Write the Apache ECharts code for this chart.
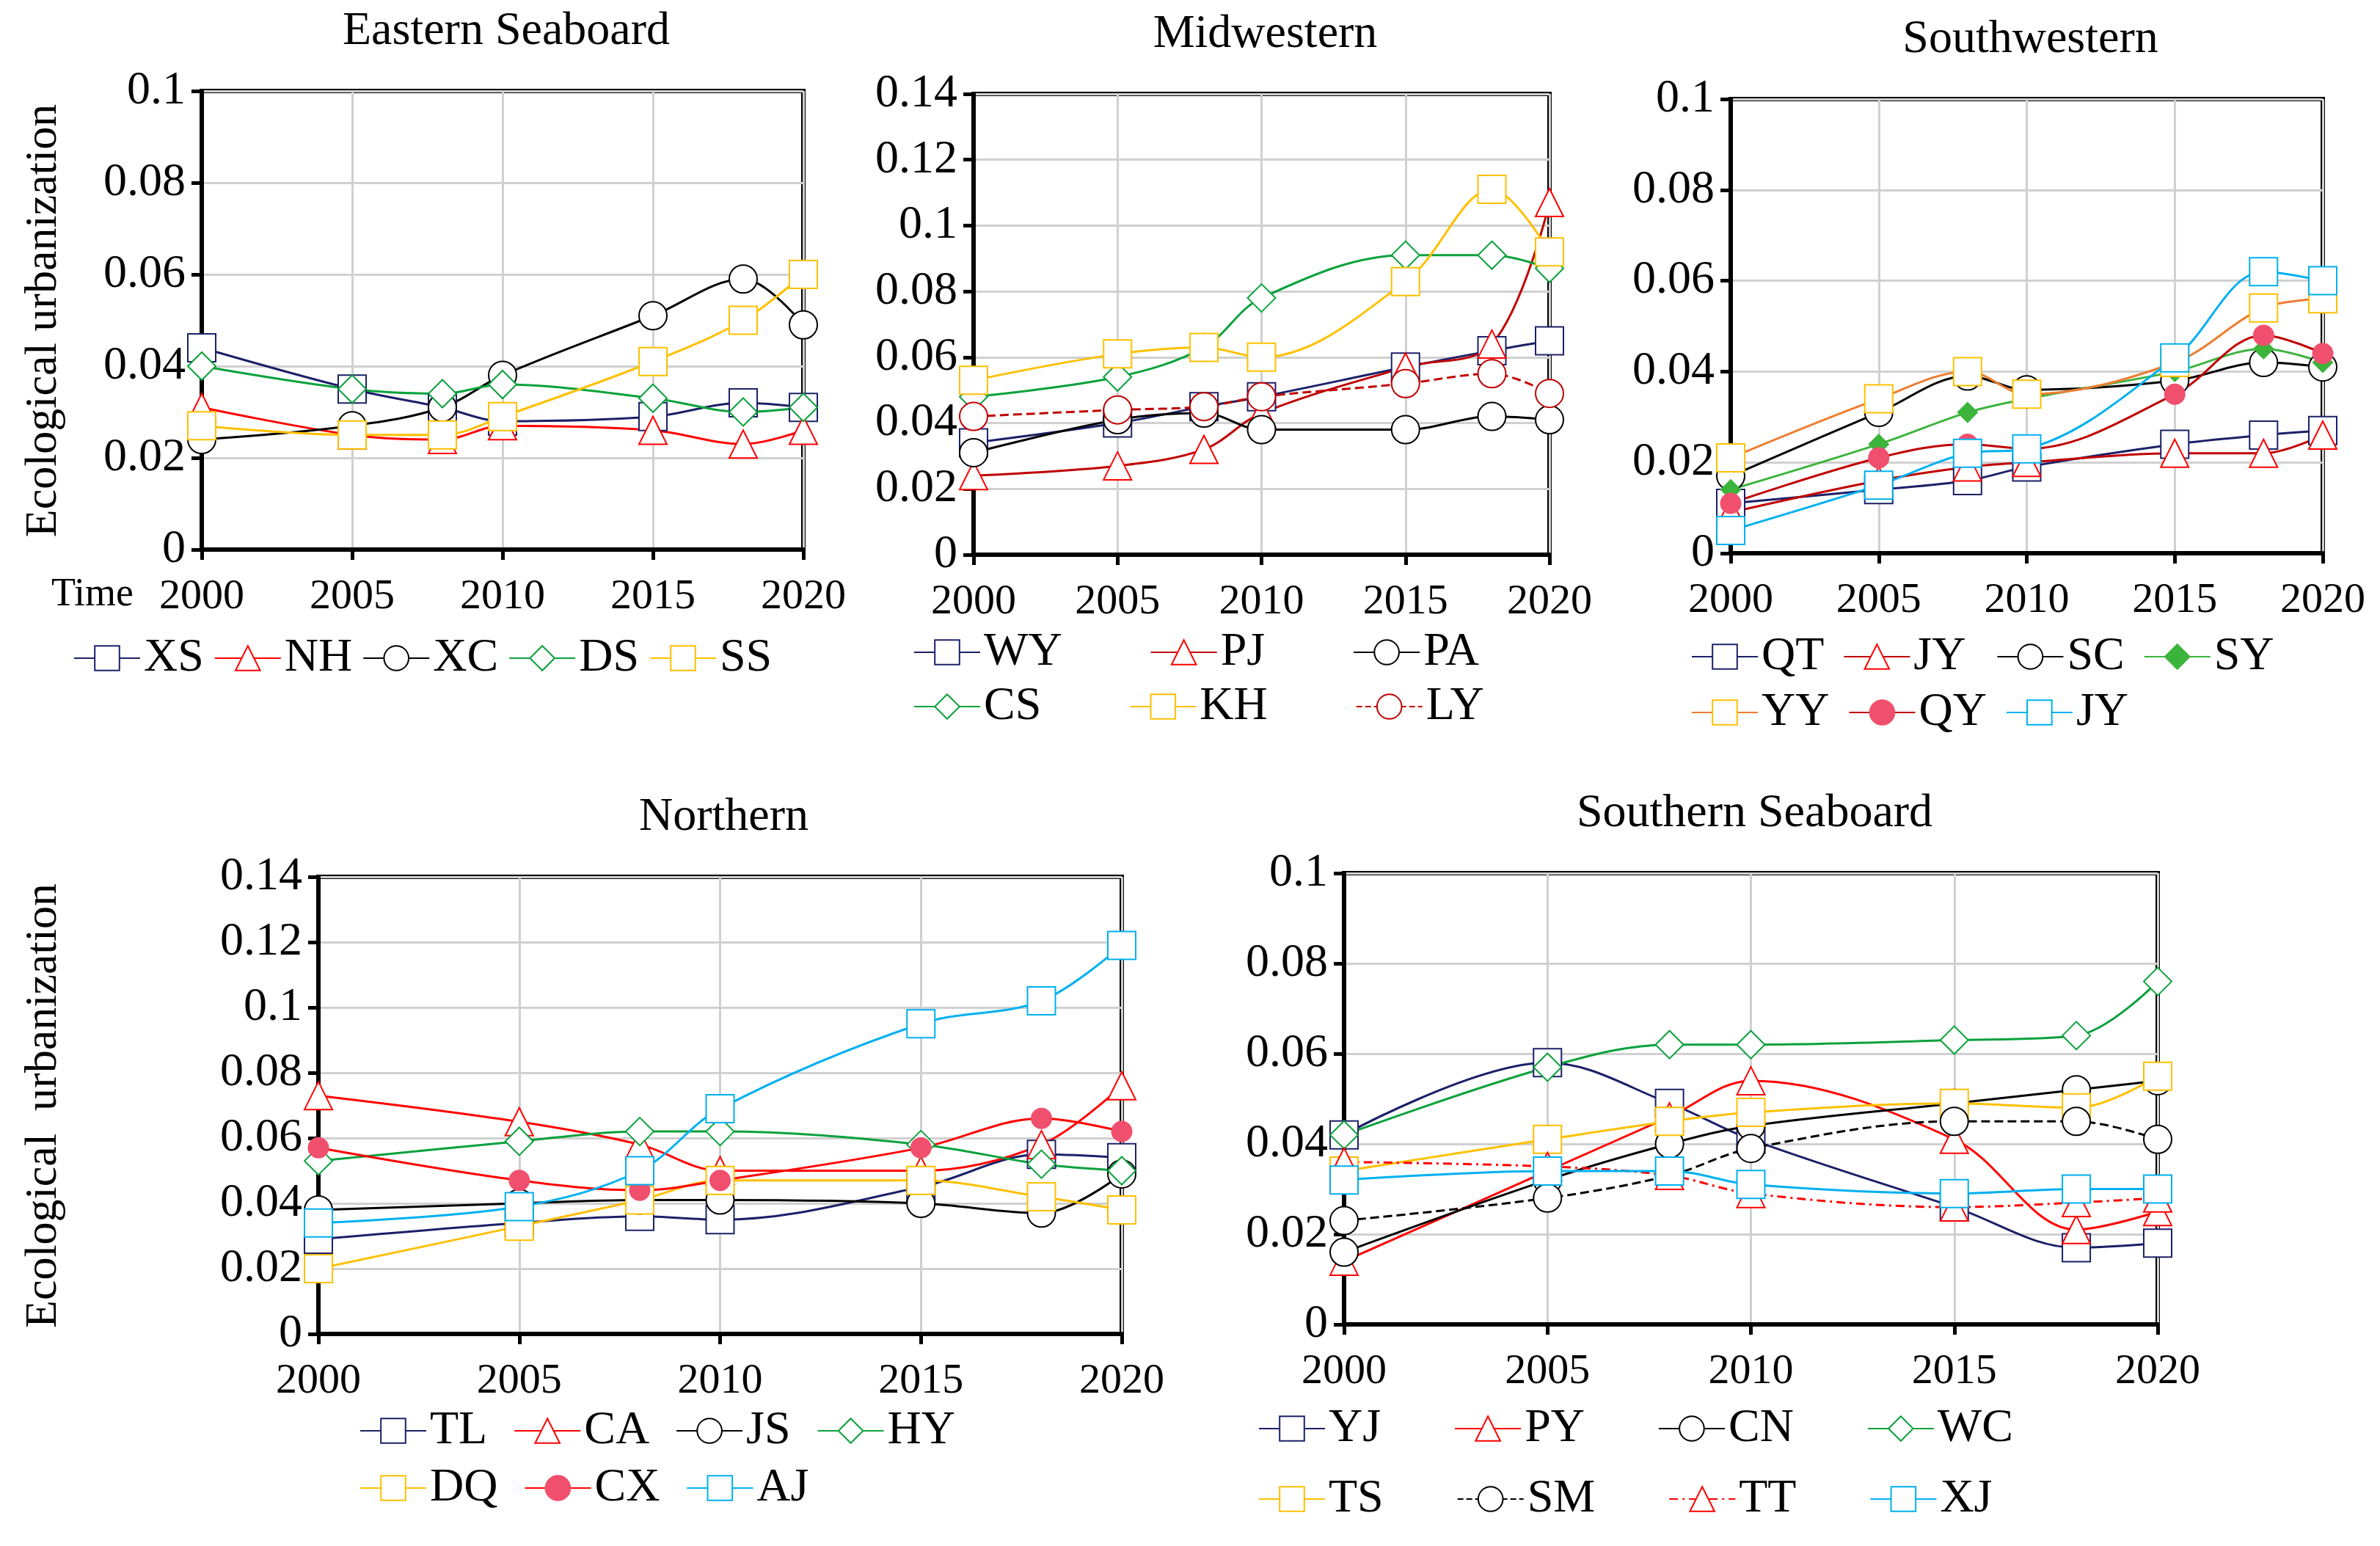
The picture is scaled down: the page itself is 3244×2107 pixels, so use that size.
<!DOCTYPE html>
<html>
<head>
<meta charset="utf-8">
<script src="https://cdn.jsdelivr.net/npm/echarts@6/dist/echarts.min.js"></script>
<style>
  html, body { margin: 0; padding: 0; background: #fff; }
  #chart { width: 3244px; height: 2107px; }
</style>
</head>
<body>
<div id="chart"></div>
<script>
const years = [2000, 2005, 2008, 2010, 2015, 2018, 2020];

// Eastern Seaboard
const xs = [0.044, 0.035, 0.031, 0.028, 0.029, 0.032, 0.031];
const nh = [0.031, 0.025, 0.024, 0.027, 0.026, 0.023, 0.026];
const xc = [0.024, 0.027, 0.031, 0.038, 0.051, 0.059, 0.049];
const ds = [0.040, 0.035, 0.034, 0.036, 0.033, 0.030, 0.031];
const ss = [0.027, 0.025, 0.025, 0.029, 0.041, 0.050, 0.060];

// Midwestern
const wy = [0.034, 0.040, 0.045, 0.048, 0.057, 0.062, 0.065];
const pj = [0.024, 0.027, 0.032, 0.043, 0.057, 0.064, 0.107];
const pa = [0.031, 0.041, 0.043, 0.038, 0.038, 0.042, 0.041];
const cs = [0.048, 0.054, 0.063, 0.078, 0.091, 0.091, 0.087];
const kh = [0.053, 0.061, 0.063, 0.060, 0.083, 0.111, 0.092];
const ly = [0.042, 0.044, 0.045, 0.048, 0.052, 0.055, 0.049];

// Southwestern
const qt = [0.011, 0.014, 0.016, 0.019, 0.024, 0.026, 0.027];
const jyRed = [0.009, 0.016, 0.019, 0.020, 0.022, 0.022, 0.026];
const sc = [0.017, 0.031, 0.039, 0.036, 0.038, 0.042, 0.041];
const sy = [0.014, 0.024, 0.031, 0.034, 0.040, 0.045, 0.042];
const yy = [0.021, 0.034, 0.040, 0.035, 0.042, 0.054, 0.056];
const qy = [0.011, 0.021, 0.024, 0.023, 0.035, 0.048, 0.044];
const jyBlue = [0.005, 0.015, 0.022, 0.023, 0.043, 0.062, 0.060];

// Northern
const tl = [0.029, 0.034, 0.036, 0.035, 0.045, 0.055, 0.054];
const ca = [0.073, 0.065, 0.058, 0.050, 0.050, 0.058, 0.076];
const js = [0.038, 0.040, 0.041, 0.041, 0.040, 0.037, 0.049];
const hy = [0.053, 0.059, 0.062, 0.062, 0.058, 0.052, 0.050];
const dq = [0.020, 0.033, 0.041, 0.047, 0.047, 0.042, 0.038];
const cx = [0.057, 0.047, 0.044, 0.047, 0.057, 0.066, 0.062];
const aj = [0.034, 0.039, 0.050, 0.069, 0.095, 0.102, 0.119];

// Southern Seaboard
const yj = [0.042, 0.058, 0.049, 0.041, 0.026, 0.017, 0.018];
const py = [0.014, 0.034, 0.046, 0.054, 0.041, 0.021, 0.025];
const cn = [0.016, 0.032, 0.040, 0.044, 0.049, 0.052, 0.054];
const wc = [0.042, 0.057, 0.062, 0.062, 0.063, 0.064, 0.076];
const ts = [0.034, 0.041, 0.045, 0.047, 0.049, 0.048, 0.055];
const sm = [0.023, 0.028, 0.033, 0.039, 0.045, 0.045, 0.041];
const tt = [0.036, 0.035, 0.033, 0.029, 0.026, 0.027, 0.028];
const xj = [0.032, 0.034, 0.034, 0.031, 0.029, 0.030, 0.030];

const NAVY = '#1c2068', RED = '#ff0000', BLACK = '#000000', GREEN = '#0aa13c',
      GOLD = '#ffc000', BLUE = '#00b0f0', DRED = '#c00000', ORANGE = '#ed7d31',
      PINK = '#f0506e', LGREEN = '#3cb43c';
const FONT = '"Liberation Serif", "DejaVu Serif", serif';

const panels = [
  { title: 'Eastern Seaboard', grid: [275, 124, 820, 625], max: 0.1, step: 0.02 },
  { title: 'Midwestern', grid: [1327, 128, 785, 628], max: 0.14, step: 0.02 },
  { title: 'Southwestern', grid: [2359, 135, 807, 619], max: 0.1, step: 0.02 },
  { title: 'Northern', grid: [434, 1195, 1095, 623], max: 0.14, step: 0.02 },
  { title: 'Southern Seaboard', grid: [1832, 1190, 1109, 615], max: 0.1, step: 0.02 }
];

// name, values, panel, line colour, symbol, marker colour, dash, marker size
const lines = [
  ['XS', xs, 0, NAVY, 'emptyRect', NAVY], ['NH', nh, 0, RED, 'emptyTriangle', RED],
  ['XC', xc, 0, BLACK, 'emptyCircle', BLACK], ['DS', ds, 0, GREEN, 'emptyDiamond', GREEN],
  ['SS', ss, 0, GOLD, 'emptyRect', GOLD],
  ['WY', wy, 1, NAVY, 'emptyRect', NAVY], ['PJ', pj, 1, DRED, 'emptyTriangle', RED],
  ['PA', pa, 1, BLACK, 'emptyCircle', BLACK], ['CS', cs, 1, GREEN, 'emptyDiamond', GREEN],
  ['KH', kh, 1, GOLD, 'emptyRect', GOLD], ['LY', ly, 1, DRED, 'emptyCircle', DRED, 'dashed'],
  ['QT', qt, 2, NAVY, 'emptyRect', NAVY], ['JY ', jyRed, 2, DRED, 'emptyTriangle', RED],
  ['SC', sc, 2, BLACK, 'emptyCircle', BLACK], ['SY', sy, 2, LGREEN, 'diamond', LGREEN, null, 22],
  ['YY', yy, 2, ORANGE, 'emptyRect', GOLD], ['QY', qy, 2, DRED, 'circle', PINK, null, 24],
  ['JY', jyBlue, 2, BLUE, 'emptyRect', BLUE],
  ['TL', tl, 3, NAVY, 'emptyRect', NAVY], ['CA', ca, 3, RED, 'emptyTriangle', RED],
  ['JS', js, 3, BLACK, 'emptyCircle', BLACK], ['HY', hy, 3, GREEN, 'emptyDiamond', GREEN],
  ['DQ', dq, 3, GOLD, 'emptyRect', GOLD], ['CX', cx, 3, RED, 'circle', PINK, null, 24],
  ['AJ', aj, 3, BLUE, 'emptyRect', BLUE],
  ['YJ', yj, 4, NAVY, 'emptyRect', NAVY], ['PY', py, 4, RED, 'emptyTriangle', RED],
  ['CN', cn, 4, BLACK, 'emptyCircle', BLACK], ['WC', wc, 4, GREEN, 'emptyDiamond', GREEN],
  ['TS', ts, 4, GOLD, 'emptyRect', GOLD], ['SM', sm, 4, BLACK, 'emptyCircle', BLACK, 'dashed'],
  ['TT', tt, 4, RED, 'emptyTriangle', RED, [12, 6, 3, 6]], ['XJ', xj, 4, BLUE, 'emptyRect', BLUE]
];

const legendRows = [
  { names: ['XS', 'NH', 'XC', 'DS', 'SS'], left: 95, top: 860, gap: 14 },
  { names: ['WY', 'PJ', 'PA'], left: 1240, top: 852, gap: 120 },
  { names: ['CS', 'KH', 'LY'], left: 1240, top: 926, gap: 120 },
  { names: ['QT', 'JY ', 'SC', 'SY'], left: 2300, top: 858, gap: 26 },
  { names: ['YY', 'QY', 'JY'], left: 2300, top: 934, gap: 26 },
  { names: ['TL', 'CA', 'JS', 'HY'], left: 485, top: 1913, gap: 36 },
  { names: ['DQ', 'CX', 'AJ'], left: 485, top: 1991, gap: 36 },
  { names: ['YJ', 'PY', 'CN', 'WC'], left: 1710, top: 1910, gap: 100 },
  { names: ['TS', 'SM', 'TT', 'XJ'], left: 1710, top: 2006, gap: 100 }
];

const option = {
  backgroundColor: '#fff',
  animation: false,
  textStyle: { fontFamily: FONT },
  title: panels.map(p => ({
    text: p.title,
    left: p.grid[0] + p.grid[2] / 2,
    top: p.grid[1] - 118,
    textAlign: 'center',
    textStyle: { fontFamily: FONT, fontWeight: 'normal', fontSize: 64, color: '#000' }
  })),
  grid: panels.map(p => ({
    left: p.grid[0], top: p.grid[1], width: p.grid[2], height: p.grid[3],
    show: true, borderColor: '#000', borderWidth: 6, backgroundColor: '#fff'
  })),
  xAxis: panels.map((p, i) => ({
    type: 'value', gridIndex: i, min: 2000, max: 2020, interval: 5,
    axisLine: { show: true, onZero: false, lineStyle: { color: '#000', width: 6 } },
    axisTick: { show: true, length: 14, lineStyle: { color: '#000', width: 5 } },
    axisLabel: { fontFamily: FONT, fontSize: 58, color: '#000', margin: 36,
      formatter: v => String(v) },
    splitLine: { show: true, lineStyle: { color: '#d0d0d0', width: 3 } }
  })),
  yAxis: panels.map((p, i) => ({
    type: 'value', gridIndex: i, min: 0, max: p.max, interval: p.step,
    axisLine: { show: true, lineStyle: { color: '#000', width: 6 } },
    axisTick: { show: true, length: 14, lineStyle: { color: '#000', width: 5 } },
    axisLabel: { fontFamily: FONT, fontSize: 64, color: '#000', margin: 22,
      formatter: v => String(+v.toFixed(2)) },
    splitLine: { show: true, lineStyle: { color: '#d0d0d0', width: 3 } }
  })),
  legend: legendRows.map(r => ({
    data: r.names, left: r.left, top: r.top, itemGap: r.gap,
    itemWidth: 90, itemHeight: 42, orient: 'horizontal',
    textStyle: { fontFamily: FONT, fontSize: 64, color: '#000' }
  })),
  graphic: [
    { type: 'text', x: 60, y: 437, rotation: Math.PI / 2, style: { text: 'Ecological urbanization', fontFamily: FONT, fontSize: 62, fill: '#000', textAlign: 'center', textVerticalAlign: 'middle' } },
    { type: 'text', x: 60, y: 1507, rotation: Math.PI / 2, style: { text: 'Ecological  urbanization', fontFamily: FONT, fontSize: 62, fill: '#000', textAlign: 'center', textVerticalAlign: 'middle' } },
    { type: 'text', x: 70, y: 784, style: { text: 'Time', fontFamily: FONT, fontSize: 54, fill: '#000' } }
  ],
  series: lines.map(l => ({
    name: l[0], type: 'line', xAxisIndex: l[2], yAxisIndex: l[2],
    data: years.map((y, k) => [y, l[1][k]]),
    smooth: 0.35, symbol: l[4], symbolSize: l[7] || 38,
    lineStyle: { color: l[3], width: 3, type: l[6] || 'solid' },
    itemStyle: { color: l[5], borderColor: l[5], borderWidth: 5 },
    z: 3
  }))
};

const chart = echarts.init(document.getElementById('chart'));
chart.setOption(option);
</script>
</body>
</html>
